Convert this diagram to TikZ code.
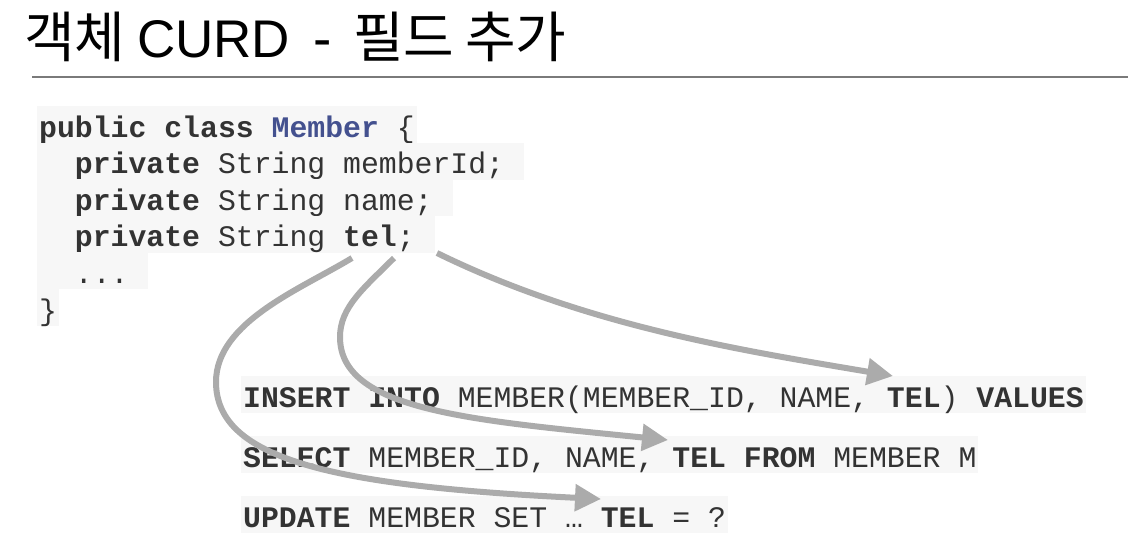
\documentclass[tikz,border=0pt]{standalone}
\usepackage{fontspec}
\setmonofont{Liberation Mono}
\newfontfamily\krfont{Noto Sans CJK KR}
\newfontfamily\lsans{Liberation Sans}
\usetikzlibrary{arrows.meta}
\definecolor{codebg}{HTML}{F7F7F7}
\definecolor{codefg}{HTML}{333333}
\definecolor{memblue}{HTML}{44518F}
\definecolor{arrgray}{HTML}{ABABAB}
\definecolor{rulegray}{HTML}{7A7A7A}
\newcommand{\tsp}{\phantom{x}}
\tikzset{
  codeline/.style={anchor=base west, fill=codebg, text=codefg, inner xsep=2pt, inner ysep=0pt,
    text height=31pt, text depth=6pt, font=\ttfamily\fontsize{29.8}{36}\selectfont},
  arr/.style={draw=arrgray, line width=6pt, -{Triangle[length=26pt,width=26pt]}},
  titletext/.style={anchor=base west, inner sep=0pt, text=black}
}
\begin{document}
\begin{tikzpicture}[x=1pt,y=-1pt]
\useasboundingbox (0,0) rectangle (1145,550);
% title
\node[titletext] (title) at (24,57) {%
  \makebox[113pt][l]{\krfont\fontsize{55}{60}\selectfont 객체}%
  \makebox[176pt][l]{\lsans\fontsize{53}{60}\selectfont CURD}%
  \makebox[40pt][l]{\lsans\fontsize{55}{60}\selectfont -}%
  \makebox[112pt][l]{\krfont\fontsize{55}{60}\selectfont 필드}%
  {\krfont\fontsize{55}{60}\selectfont 추가}};
\draw[rulegray, line width=1.2pt] (32,77) coordinate (rl) -- (1128,77) coordinate (rr);
% code block
\node[codeline] (c1) at (37,137) {\textbf{public class} \textcolor{memblue}{\textbf{Member}} \{};
\node[codeline] (c2) at (37,173.6) {\tsp\tsp\textbf{private} String memberId;\tsp};
\node[codeline] (c3) at (37,210.2) {\tsp\tsp\textbf{private} String name;\tsp};
\node[codeline] (c4) at (37,246.8) {\tsp\tsp\textbf{private} String \textbf{tel};\tsp};
\node[codeline] (c5) at (37,283.4) {\tsp\tsp...\tsp};
\node[codeline] (c6) at (37,320) {\}};
% SQL lines
\node[codeline] (ins) at (241,407) {\textbf{INSERT INTO} MEMBER(MEMBER\_ID, NAME, \textbf{TEL}) \textbf{VALUES}};
\node[codeline] (sel) at (241,467) {\textbf{SELECT} MEMBER\_ID, NAME, \textbf{TEL FROM} MEMBER M};
\node[codeline] (upd) at (241,527) {\textbf{UPDATE} MEMBER SET … \textbf{TEL} = ?};
% connector ends
\coordinate (s1) at (437,253);
\coordinate (s2) at (394,258);
\coordinate (s3) at (352,258);
\coordinate (e1) at (893,376);
\coordinate (e2) at (668,440);
\coordinate (e3) at (601,499);
\coordinate (m2) at (340,337);
\coordinate (m3) at (216,382);
% arrows
\draw[arr] (s1) .. controls (587,326.5) and (743,350.5) .. (e1);
\draw[arr] (s2) .. controls (364,288) and (340,307) .. (m2) .. controls (340,410) and (468,420) .. (e2);
\draw[arr] (s3) .. controls (301,289) and (216,322) .. (m3) .. controls (216,460) and (335,486) .. (e3);
\end{tikzpicture}
\end{document}
